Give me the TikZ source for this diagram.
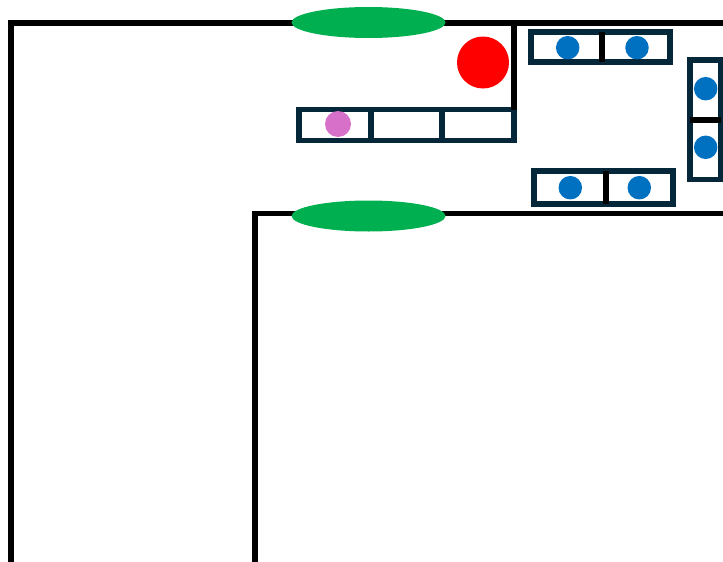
\documentclass[tikz,border=0pt]{standalone}
\usepackage{tikz}
\usetikzlibrary{positioning,shapes.geometric}
\definecolor{doorgreen}{HTML}{00B050}
\definecolor{seatblue}{HTML}{0070C0}
\definecolor{seatpink}{HTML}{D670C8}
\definecolor{boxdark}{HTML}{04283A}
\begin{document}
\begin{tikzpicture}
	[x=1pt, y=-1pt, inner sep=0pt, outer sep=0pt,
	wall/.style		= {draw=black, line width=5.7pt},
	door/.style		= {ellipse, draw=none, fill=doorgreen, minimum width=154pt, minimum height=31pt},
	longbox/.style	= {rectangle, draw=boxdark, line width=5.7pt, fill=white, minimum width=72pt, minimum height=31pt},
	hibox/.style	= {rectangle, draw=boxdark, line width=5.7pt, fill=white, minimum width=31pt, minimum height=60pt},
	person/.style	= {circle, draw=none, fill=seatblue, minimum size=23.5pt},
	splitter/.style	= {draw=black, line width=5.2pt}]

	\useasboundingbox (0,0) rectangle (723,562);

	\coordinate (oa) at (11, 562);
	\coordinate (ob) at (11, 23);
	\coordinate (oc) at (723, 23);
	\coordinate (ia) at (255, 562);
	\coordinate (ib) at (255, 213.5);
	\coordinate (ic) at (723, 213.5);
	\coordinate (da) at (513.7, 23);

	\draw [wall] (oa) -- (ob) -- (oc);
	\draw [wall] (ia) -- (ib) -- (ic);

	\node at (368.5, 22.5)	[door]	(d1)	{};
	\node at (368.5, 216)	[door]	(d2)	{};

	\node at (478.2, 125)	[longbox, minimum width=71.6pt]	(b3)	{};
	\draw [wall] (da) -- (b3.north east -| da);
	\node at (335, 125)		[longbox]	(b1)	{};
	\node at (406.6, 125)	[longbox, minimum width=71.4pt]	(b2)	{};

	\node at (483, 62.5)	[circle, fill=red, minimum size=52pt]		(alarm)	{};
	\node at (338, 124)		[person, fill=seatpink, minimum size=26pt]	(p0)	{};

	\node at (566.5, 47)	[longbox, minimum width=71pt, minimum height=30pt]	(t1)	{};
	\node at (636, 47)		[longbox, minimum width=68pt, minimum height=30pt]	(t2)	{};
	\node at (570, 187.5)	[longbox, minimum height=33pt]						(u1)	{};
	\node at (639.5, 187.5)	[longbox, minimum width=67pt, minimum height=33pt]	(u2)	{};
	\node at (705.5, 90)	[hibox]	(r1)	{};
	\node at (705.5, 149.7)	[hibox, minimum height=59.5pt]	(r2)	{};

	\draw [splitter] (t1.north east) -- (t1.south east);
	\draw [splitter] (u1.north east) -- (u1.south east);
	\draw [splitter] (r1.south west) -- (r1.south east);

	\node at (567.7, 47.7)	[person]	(p1)	{};
	\node at (637, 47.7)	[person]	(p2)	{};
	\node at (570.3, 187.7)	[person]	(p3)	{};
	\node at (639.3, 187.7)	[person]	(p4)	{};
	\node at (705.7, 88.7)	[person]	(p5)	{};
	\node at (705.7, 147.3)	[person]	(p6)	{};
\end{tikzpicture}
\end{document}
